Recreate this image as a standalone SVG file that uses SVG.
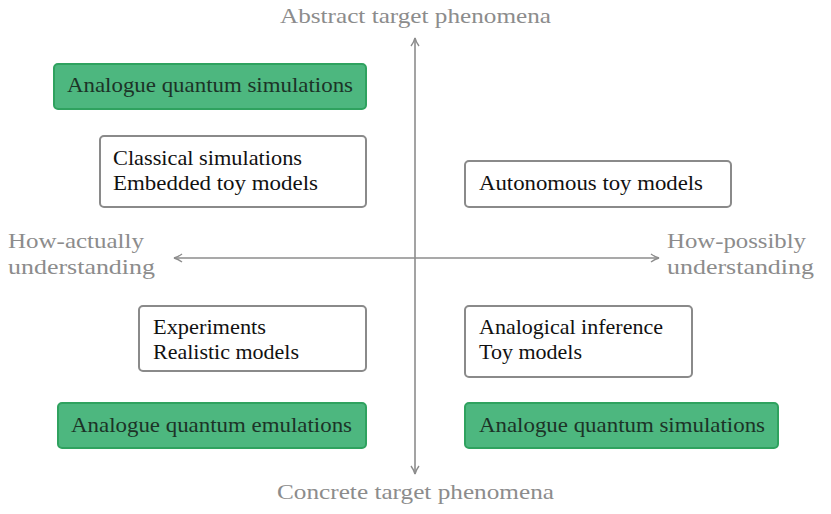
<svg xmlns="http://www.w3.org/2000/svg" width="831" height="514" viewBox="0 0 831 514" font-family="'Liberation Serif', 'DejaVu Serif', serif" font-size="21">
<defs>
<style>
text{font-family:'Liberation Serif','DejaVu Serif',serif;font-size:21px}
.box{fill:#fff;stroke:#8a8a8a;stroke-width:2}
.gbox{fill:#4db77f;stroke:#2fa25f;stroke-width:2}
.t{fill:#111}
.gt{fill:#1c3327}
.lab{fill:#8c8c8c}
.axis{stroke:#8c8c8c;stroke-width:1.6;fill:none}
</style>
<marker id="ah" viewBox="0 0 10 10" refX="9" refY="5" markerWidth="10" markerHeight="10" markerUnits="userSpaceOnUse" orient="auto">
<path d="M1,1 Q5,4 9,5 Q5,6 1,9" fill="none" stroke="#8c8c8c" stroke-width="1.4"/>
</marker>
</defs>
<g id="connectors">
<line class="axis" x1="415" y1="258" x2="415" y2="38" marker-end="url(#ah)"/>
<line class="axis" x1="415" y1="258" x2="415" y2="474" marker-end="url(#ah)"/>
<line class="axis" x1="415" y1="258" x2="174" y2="258" marker-end="url(#ah)"/>
<line class="axis" x1="415" y1="258" x2="659" y2="258" marker-end="url(#ah)"/>
</g>
<g id="labels" font-family="'Liberation Serif', serif">
<text class="lab" x="280" y="23" textLength="271" lengthAdjust="spacingAndGlyphs">Abstract target phenomena</text>
<text class="lab" x="277" y="499" textLength="277" lengthAdjust="spacingAndGlyphs">Concrete target phenomena</text>
<text class="lab" x="8" y="248" textLength="136" lengthAdjust="spacingAndGlyphs">How-actually</text>
<text class="lab" x="8" y="274" textLength="147" lengthAdjust="spacingAndGlyphs">understanding</text>
<text class="lab" x="667" y="248" textLength="139" lengthAdjust="spacingAndGlyphs">How-possibly</text>
<text class="lab" x="667" y="274" textLength="147" lengthAdjust="spacingAndGlyphs">understanding</text>
</g>
<g id="aqs-top" font-family="'Liberation Serif', serif">
<rect class="gbox" x="54" y="64" width="312" height="45" rx="4"/>
<text class="gt" x="67" y="92" textLength="286" lengthAdjust="spacingAndGlyphs">Analogue quantum simulations</text>
</g>
<g id="classical" font-family="'Liberation Serif', serif">
<rect class="box" x="100" y="136" width="266" height="71" rx="4"/>
<text class="t" x="113" y="165" textLength="189" lengthAdjust="spacingAndGlyphs">Classical simulations</text>
<text class="t" x="113" y="190" textLength="205" lengthAdjust="spacingAndGlyphs">Embedded toy models</text>
</g>
<g id="autonomous" font-family="'Liberation Serif', serif">
<rect class="box" x="465" y="161" width="266" height="46" rx="4"/>
<text class="t" x="479" y="190" textLength="224" lengthAdjust="spacingAndGlyphs">Autonomous toy models</text>
</g>
<g id="experiments" font-family="'Liberation Serif', serif">
<rect class="box" x="139" y="306" width="227" height="65" rx="4"/>
<text class="t" x="153" y="334" textLength="113" lengthAdjust="spacingAndGlyphs">Experiments</text>
<text class="t" x="153" y="359" textLength="146" lengthAdjust="spacingAndGlyphs">Realistic models</text>
</g>
<g id="analogical" font-family="'Liberation Serif', serif">
<rect class="box" x="465" y="306" width="227" height="71" rx="4"/>
<text class="t" x="479" y="334" textLength="184" lengthAdjust="spacingAndGlyphs">Analogical inference</text>
<text class="t" x="479" y="359" textLength="103" lengthAdjust="spacingAndGlyphs">Toy models</text>
</g>
<g id="aqe-bottom" font-family="'Liberation Serif', serif">
<rect class="gbox" x="58" y="403" width="308" height="45" rx="4"/>
<text class="gt" x="71" y="432" textLength="281" lengthAdjust="spacingAndGlyphs">Analogue quantum emulations</text>
</g>
<g id="aqs-bottom" font-family="'Liberation Serif', serif">
<rect class="gbox" x="465" y="403" width="313" height="45" rx="4"/>
<text class="gt" x="479" y="432" textLength="286" lengthAdjust="spacingAndGlyphs">Analogue quantum simulations</text>
</g>
</svg>
